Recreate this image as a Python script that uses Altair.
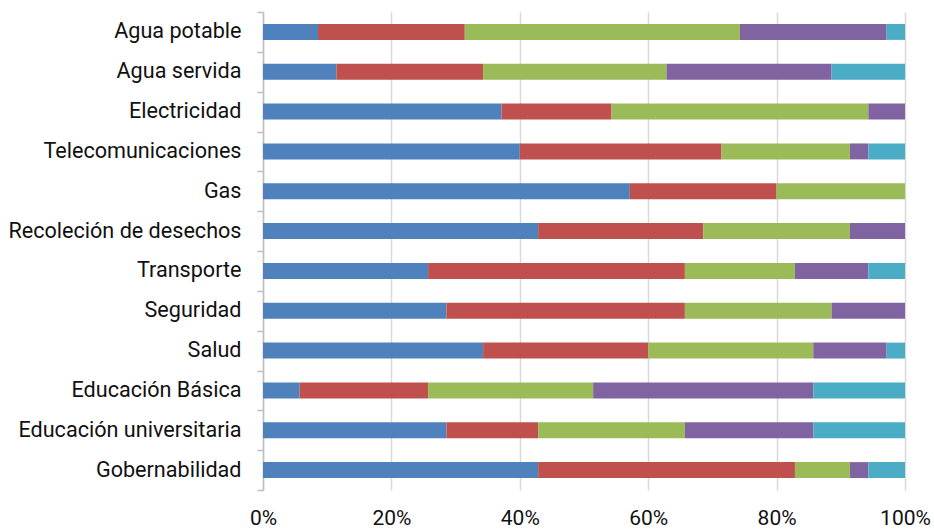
import altair as alt
import pandas as pd

categories = ["Agua potable", "Agua servida", "Electricidad", "Telecomunicaciones", "Gas",
              "Recoleción de desechos", "Transporte", "Seguridad", "Salud",
              "Educación Básica", "Educación universitaria", "Gobernabilidad"]
series = ["Serie 1", "Serie 2", "Serie 3", "Serie 4", "Serie 5"]
colors = ["#4F81BD", "#C0504D", "#9BBB59", "#8064A2", "#4BACC6"]

s1 = [3, 4, 13, 14, 20, 15, 9, 10, 12, 2, 10, 15]
s2 = [8, 8, 6, 11, 8, 9, 14, 13, 9, 7, 5, 14]
s3 = [15, 10, 14, 7, 7, 8, 6, 8, 9, 9, 8, 3]
s4 = [8, 9, 2, 1, 0, 3, 4, 4, 4, 12, 7, 1]
s5 = [1, 4, 0, 2, 0, 0, 2, 0, 1, 5, 5, 2]
tick_values = [0, 0.2, 0.4, 0.6, 0.8, 1.0]

rows = []
for si, (name, vals) in enumerate(zip(series, [s1, s2, s3, s4, s5])):
    for c, v in zip(categories, vals):
        rows.append({"categoria": c, "serie": name, "orden": si, "valor": v})
df = pd.DataFrame(rows)

FONT = "Roboto"

chart = alt.Chart(df).mark_bar(height=alt.RelativeBandSize(0.4)).encode(
    y=alt.Y("categoria:N", sort=categories, title=None,
            scale=alt.Scale(paddingInner=0, paddingOuter=0),
            axis=alt.Axis(tickBand="extent", grid=False, domainColor="#BFBFBF",
                          tickColor="#BFBFBF", tickSize=6, labelPadding=16,
                          labelFont=FONT, labelFontSize=21.6, labelColor="#111111",
                          labelLimit=400, domainWidth=1.5, tickWidth=1.5)),
    x=alt.X("valor:Q", stack="normalize", title=None,
            scale=alt.Scale(domain=[0, 1], nice=False),
            axis=alt.Axis(values=tick_values, format=".0%", domain=False, ticks=False,
                          grid=True, gridColor="#D9D9D9", gridWidth=1.5,
                          labelPadding=17, labelFont=FONT, labelFontSize=21,
                          labelColor="#111111", labelFlush=False)),
    color=alt.Color("serie:N", scale=alt.Scale(domain=series, range=colors), legend=None),
    order=alt.Order("orden:Q", sort="ascending"),
).properties(
    width=642, height=478,
    autosize=alt.AutoSizeParams(type="none"),
    padding={"left": 263, "top": 12, "right": 29, "bottom": 42},
).configure_view(stroke=None)

chart.save("out.html", embed_options={"renderer": "svg", "actions": False})
